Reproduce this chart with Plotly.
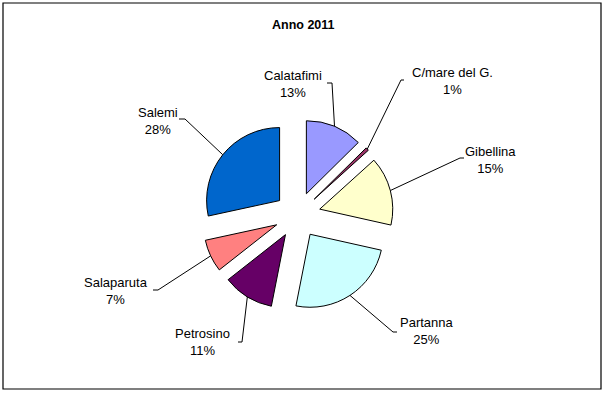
import math
import plotly.graph_objects as go

# ---- data ----
comuni = ["Calatafimi", "C/mare del G.", "Gibellina", "Partanna", "Petrosino", "Salaparuta", "Salemi"]
quote = [12.6, 0.7, 15.2, 24.6, 11.3, 7.2, 28.4]
colori = ["#9999FF", "#993366", "#FFFFCC", "#CCFFFF", "#660066", "#FF8080", "#0066CC"]
titolo = "Anno 2011"

# ---- layout constants (pixels) ----
W, H = 605, 393
CX, CY = 297.5, 215.0      # pie centre
R = 73.0                   # slice radius
PULL_PX = 23.0             # explosion distance
PULL = PULL_PX / R
S = 2 * (R + PULL_PX)      # square domain size

# label centres, leader elbows and leader ends (pixels)
label_pos = [(293, 84), (452, 81), (490, 160), (427, 331), (202, 342), (116, 291), (158, 121)]
elbows = [(332, 83), (401, 80), (460, 158), (393, 332), (242, 342), (158, 290), (185, 119)]
ends = [(327, 83), (404, 80), (464, 158), (397, 332), (238, 342), (153, 290), (179, 119)]


def px(x):
    return x / W


def py(y):
    return 1 - y / H


fig = go.Figure(go.Pie(
    labels=comuni,
    values=quote,
    sort=False,
    direction="clockwise",
    rotation=0,
    pull=[PULL] * len(quote),
    marker=dict(colors=colori, line=dict(color="#000000", width=1)),
    textinfo="none",
    hoverinfo="label+percent",
    showlegend=False,
    domain=dict(x=[px(CX - S / 2), px(CX + S / 2)], y=[py(CY + S / 2), py(CY - S / 2)]),
))

total = sum(quote)
shapes = []
annotations = []
cum = 0.0
for i, (nome, v) in enumerate(zip(comuni, quote)):
    mid = (cum + v / 2) / total * 2 * math.pi
    cum += v
    ux, uy = math.sin(mid), -math.cos(mid)
    sx, sy = CX + (R + PULL_PX) * ux, CY + (R + PULL_PX) * uy
    ex, ey = elbows[i]
    tx, ty = ends[i]
    for (a, b), (c, d) in (((sx, sy), (ex, ey)), ((ex, ey), (tx, ty))):
        shapes.append(dict(type="line", xref="paper", yref="paper",
                           x0=px(a), y0=py(b), x1=px(c), y1=py(d),
                           line=dict(color="#000000", width=1)))
    pct = int(math.floor(v / total * 100 + 0.5))
    lx, ly = label_pos[i]
    annotations.append(dict(x=px(lx), y=py(ly), xref="paper", yref="paper",
                            text=f"{nome}<br>{pct}%", showarrow=False,
                            xanchor="center", yanchor="middle", align="center",
                            font=dict(family="Liberation Sans, Arial, sans-serif", size=13, color="#000000")))

annotations.append(dict(x=px(303), y=py(25), xref="paper", yref="paper", text=f"<b>{titolo}</b>",
                        showarrow=False, xanchor="center", yanchor="middle",
                        font=dict(family="Liberation Sans, Arial, sans-serif", size=12.5, color="#000000")))

shapes.append(dict(type="rect", xref="paper", yref="paper",
                   x0=px(3), y0=py(389), x1=px(601), y1=py(3),
                   line=dict(color="#000000", width=1.2), fillcolor="rgba(0,0,0,0)"))

fig.update_layout(
    width=W, height=H,
    margin=dict(l=0, r=0, t=0, b=0),
    paper_bgcolor="#FFFFFF",
    plot_bgcolor="#FFFFFF",
    shapes=shapes,
    annotations=annotations,
)

fig.write_html("out.html", config={"displayModeBar": False},
               post_script="document.body.style.margin='0';document.body.style.overflow='hidden';")
